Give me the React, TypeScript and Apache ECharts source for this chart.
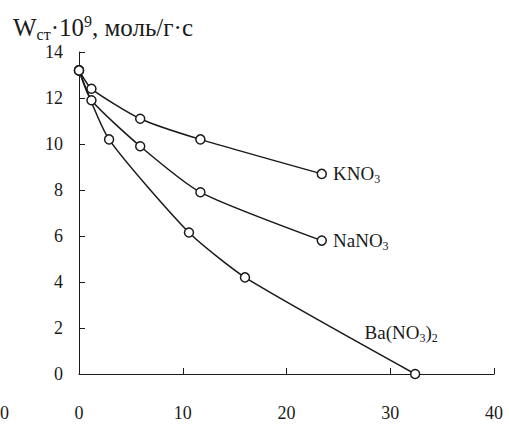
import React, { useEffect, useRef } from "react";
import * as echarts from "echarts";

const kno3X = [0, 1.2, 5.9, 11.7, 23.4];
const kno3Y = [13.2, 12.4, 11.1, 10.2, 8.7];
const nano3X = [0, 1.2, 5.9, 11.7, 23.4];
const nano3Y = [13.2, 11.9, 9.9, 7.9, 5.8];
const baX = [0, 2.9, 10.6, 16.0, 32.4];
const baY = [13.2, 10.2, 6.15, 4.2, 0];
const xTicks = [0, 10, 20, 30, 40];
const yTicks = [0, 2, 4, 6, 8, 10, 12, 14];

const FONT = "Liberation Serif";
const INK = "#1a1a1a";

const rich = {
  n: { fontSize: 19, fontFamily: FONT, color: INK, lineHeight: 22, verticalAlign: "middle" },
  s: { fontSize: 12, fontFamily: FONT, color: INK, lineHeight: 22, verticalAlign: "bottom", padding: [8, 0, 0, 0] },
};

function makeData(xs: number[], ys: number[], labelText: string, labelOpts: any) {
  return xs.map((x, i) => {
    const item: any = { value: [x, ys[i]] };
    if (i === xs.length - 1) {
      item.label = { show: true, formatter: labelText, rich, ...labelOpts };
    }
    return item;
  });
}

export default function App() {
  const ref = useRef<HTMLDivElement>(null);
  useEffect(() => {
    if (!ref.current) return;
    const chart = echarts.init(ref.current, null, { renderer: "svg" });
    const lineStyle = { color: INK, width: 1.5 };
    const itemStyle = { color: "#fff", borderColor: INK, borderWidth: 1.5 };
    const common = {
      type: "line",
      smooth: 0.2,
      symbol: "circle",
      symbolSize: 9,
      lineStyle,
      itemStyle,
      z: 3,
    };
    chart.setOption({
      animation: false,
      backgroundColor: "#fff",
      grid: { left: 79, top: 52, right: 15, bottom: 53 },
      title: {
        left: 8,
        top: 8,
        text: "{w|W}{sub|ст}{w|·10}{sup|9}{w|, моль/г·с}",
        textStyle: {
          fontWeight: "normal",
          rich: {
            w: { fontSize: 25, fontFamily: FONT, color: INK, fontWeight: "normal", lineHeight: 29, verticalAlign: "middle" },
            sub: { fontSize: 16, fontFamily: FONT, color: INK, fontWeight: "normal", lineHeight: 29, verticalAlign: "bottom", padding: [12, 0, 0, 0] },
            sup: { fontSize: 16, fontFamily: FONT, color: INK, fontWeight: "normal", lineHeight: 29, verticalAlign: "top", padding: [0, 0, 11, 0] },
          },
        },
      },
      graphic: [
        {
          type: "text",
          left: 0,
          top: 404,
          style: { text: "0", fontSize: 18, fontFamily: FONT, fill: INK },
        },
      ],
      xAxis: {
        type: "value",
        min: xTicks[0],
        max: xTicks[xTicks.length - 1],
        interval: 10,
        axisLine: { show: true, lineStyle: { color: INK, width: 1 } },
        axisTick: { show: true, inside: true, length: 6, lineStyle: { color: INK } },
        axisLabel: { margin: 30, fontSize: 18, fontFamily: FONT, color: INK },
        splitLine: { show: false },
      },
      yAxis: {
        type: "value",
        min: yTicks[0],
        max: yTicks[yTicks.length - 1],
        interval: 2,
        axisLine: { show: true, lineStyle: { color: INK, width: 1 } },
        axisTick: { show: true, inside: true, length: 6, lineStyle: { color: INK } },
        axisLabel: { margin: 16, fontSize: 18, fontFamily: FONT, color: INK },
        splitLine: { show: false },
      },
      series: [
        {
          ...common,
          name: "KNO3",
          data: makeData(kno3X, kno3Y, "{n|KNO}{s|3}", { position: "right", distance: 6, offset: [0, 0] }),
        },
        {
          ...common,
          name: "NaNO3",
          data: makeData(nano3X, nano3Y, "{n|NaNO}{s|3}", { position: "right", distance: 6, offset: [0, 0] }),
        },
        {
          ...common,
          name: "Ba(NO3)2",
          data: makeData(baX, baY, "{n|Ba(NO}{s|3}{n|)}{s|2}", { position: "top", distance: 5, offset: [-14, -20] }),
        },
      ],
    });
    return () => chart.dispose();
  }, []);
  return <div ref={ref} style={{ width: 509, height: 427, position: "absolute", left: 0, top: 0, background: "#fff" }} />;
}
